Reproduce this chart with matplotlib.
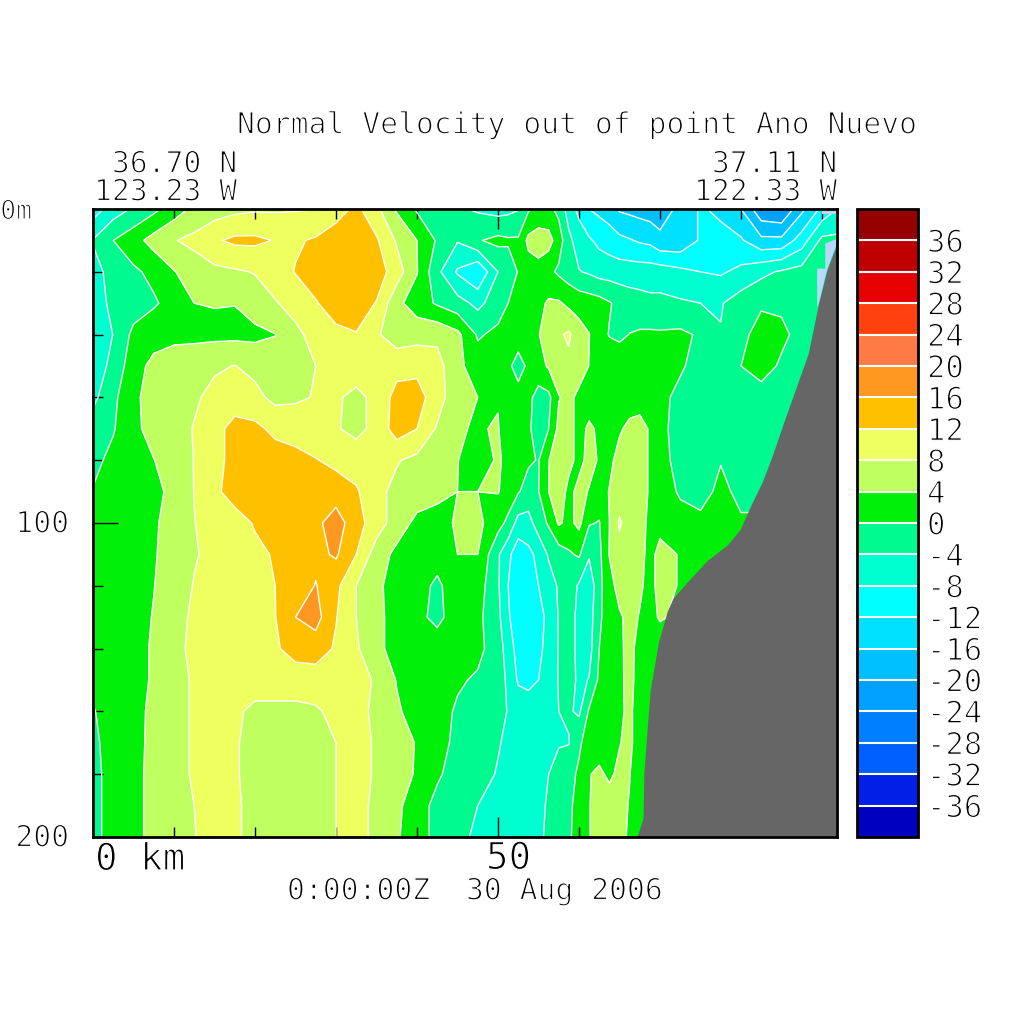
import numpy as np
import matplotlib
matplotlib.use('Agg')
import matplotlib.pyplot as plt
from matplotlib.colors import ListedColormap, BoundaryNorm
from matplotlib.patheffects import Stroke

# section coordinates
dist_km = [0, 2.5, 5, 7.5, 10, 12.5, 15, 17.5, 20, 22.5, 25, 27.5, 30, 32.5, 35, 37.5, 40, 42.5, 45, 47.5,
           50, 51.25, 52.5, 53.75, 55, 56.25, 57.5, 58.75, 60, 61.25, 62.5, 63.75, 65, 66.25, 67.5, 68.75, 70,
           72.5, 75, 77.5, 80, 82.5, 85, 87.5, 90, 91.85]
depth_m = [0, 10, 20, 30, 40, 50, 60, 70, 80, 90, 100, 110, 120, 130, 140, 150, 160, 170, 180, 190, 200]

# normal velocity, one row per depth
velocity = [
    [-10, -6, -3.5, -1, 2, 5, 6, 7, 7.5, 7.5, 7.7, 7.9, 10, 13, 9, 3.5, -0.5, -2, -3.5, -4.5,
     -5.5, -5, -4.2, -0.5, 1, 1, -1, -6, -9, -12, -13, -14, -16.5, -17, -17.5, -18, -18,
     -15, -11.5, -13, -16, -23, -24, -17, -11, -8],
    [-3.8, 0, 2.5, 5.5, 7.8, 9, 11.5, 12.8, 12.8, 11.8, 11.5, 12.5, 14.5, 16, 12.5, 7.5, 4, -0.5, -3.7, -0.3,
     1, 0.5, 0.5, 5, 6, 5.5, 2, -3, -6, -7.5, -9, -10, -11, -11.7, -12.5, -13, -15,
     -15, -11.5, -10.5, -11.5, -15, -15, -10, -3, -3],
    [-5, -3, -0.7, 1, 3.8, 6, 7, 7.5, 8.2, 10, 12.2, 14, 15, 15, 14, 10, 4.2, -3, -8.5, -11.8,
     -4, -2, 0.2, 2, 2.5, 1, -0.7, -2, -3.8, -4.5, -5.5, -5.7, -6, -6, -6, -6, -6,
     -7, -8, -8.5, -7, -5, -3.5, -2.5, -2, -2],
    [-6, -3, -2, -0.5, 1.5, 4, 4.2, 4.1, 6, 7.7, 9.5, 11.7, 14, 14, 11.8, 5, 2, -0.5, -2.5, -5,
     -2, 0, 1, 2, 3, 4.5, 4.5, 3, 2.5, 2, 1.5, 0.3, -1, -2, -2.5, -3, -3,
     -3.5, -4, -4.3, -2, -0.5, -0.8, -2, -3, -3],
    [-7.5, -3.9, 1, 2.5, 3, 3, 3, 3, 3, 3.9, 7, 9.5, 11, 11.8, 8.5, 6, 6.5, 7, 5, -0.5,
     1, 2, 2.5, 3, 3.9, 5, 7.5, 8.6, 5.5, 4.1, 1.5, -0.2, -0.8, 0.1, 0.5, 0.6, 0.5,
     0.8, -0.5, -3.8, -1, 1.5, 1, -1.5, -2, -2],
    [-6, -3, 2.5, 5, 6, 6.5, 7.5, 8.1, 7, 6, 7, 8, 9.5, 10, 10, 10.5, 11, 9.5, 5, 2,
     2, 1, -2, 1, 2.5, 4.5, 6, 7, 6, 3.9, 2, 2.5, 2.5, 2.5, 2.5, 2, 1.5,
     0.5, -1.5, -3.5, 0, 2, -0.7, -2, -2, -2],
    [-5, -1, 3.5, 5, 6, 7.5, 9, 10.5, 9, 7, 7.5, 8.2, 8.5, 7, 9, 13.5, 13.5, 10, 5, 4,
     3.9, 3, 2, 1, -1.5, -1, 3.8, 5, 3, 2.5, 2, 2, 2, 2, 1.5, 1.2, 1,
     -1, -2.5, -3, -3, -2, -2, -2, -2, -2],
    [-2, -0.3, 3, 5.5, 6.5, 8.2, 11, 13, 13, 11, 10, 9.5, 8.3, 7, 9, 14, 12, 7.5, 4.1, 3.9,
     4.1, 3, 2, 0.5, -1.5, 0, 5, 5, 3, 4.5, 3.5, 2.5, 3.5, 5, 6, 3.5, 1,
     -1.5, -2, -2.5, -2.5, -2, -0.5, -2, -2, -2],
    [-1, 1, 2.5, 3.9, 6, 8.1, 11, 13, 13.5, 14, 13.5, 12.2, 11, 10, 9, 8.3, 7, 5.5, 4.1, 2,
     4.5, 3, 2, 0.5, -0.2, 3.9, 6, 5, 3, 5, 3.7, 3, 5.5, 6.5, 6, 3.5, 1.5,
     -1.5, -2, -0.2, -1, -1, -1, -1, -1, -1],
    [0.2, 2, 2.5, 3, 5, 8.1, 11.5, 13, 13.5, 14, 14, 14.5, 14, 12.5, 9, 7, 6, 5, 4, 4,
     4.2, 2.5, 0.3, -1.5, -0.1, 4, 6, 3, 5, 3.8, 2, 4.2, 6, 7, 6, 3.5, 2,
     -0.5, -1.5, 1, -1, -1, -1, -1, -1, -1],
    [1.5, 2.5, 3, 3.5, 5.5, 7.9, 9.5, 11, 12.2, 14, 15, 15, 18, 13.5, 10, 6, 3, 2.5, 4.5, 5,
     1.5, -1, -5.5, -5.5, -2, 0.5, 4.5, 3, 5, 0.3, -0.2, 4, 8.5, 6, 4.8, 3.5, 3,
     1.5, 1, 1, 0.5, 0.5, 0.5, 0.5, 0.5, 0.5],
    [1.5, 2.5, 3, 3.7, 5.5, 7.7, 9, 10.5, 11.5, 12.2, 14, 15, 16.5, 12, 6, 3, 2, 2, 4, 4,
     -3.5, -7, -10.5, -9, -7, -3.5, -2, -0.5, 0.5, -3.5, -1, 4.2, 6.5, 6, 5, 3, 5,
     3.8, 1.5, 1, 1, 1, 1, 1, 1, 1],
    [1.5, 2.2, 2.5, 3.9, 6, 8.2, 9.5, 10.5, 11.5, 12, 13.5, 16.2, 13, 8, 5, 2, 2, -1, 3, 2,
     -3.5, -8, -10.5, -10.5, -8, -6, -3.5, -2, -4.5, -7, -1, 2.5, 5.5, 5.5, 4.5, 3, 5,
     3.8, 2, 2, 2, 2, 2, 2, 2, 2],
    [1.5, 2, 2.5, 4.2, 7, 8.5, 9.5, 10.5, 11.5, 11.9, 16, 17.5, 12.2, 8, 5, 2.5, 1, -1, 2, 1,
     -3, -7.5, -10.5, -11, -10, -6.5, -3.8, -2.5, -5, -6, -0.5, 1.5, 3.5, 5, 3.8, 2.5, 4.5,
     3, 2, 2, 2, 2, 2, 2, 2, 2],
    [1.5, 2, 2.5, 4.5, 7, 8.8, 9.5, 10.5, 11, 11.5, 13.5, 14, 11.5, 8.5, 5, 2.5, 2, 2, 1.5, 1,
     -2, -6, -9.5, -10.5, -9, -6.5, -3.8, -2.5, -5, -5.5, 0, 1.5, 3.5, 4.8, 3, 2, 1,
     1, 1, 1, 1, 1, 1, 1, 1, 1],
    [1.5, 2, 2.5, 4.5, 6.5, 8.5, 9, 9.5, 10, 10, 10, 10, 10, 9.5, 7.5, 3.8, 2.5, 2, 0.5, -0.5,
     -1.5, -5, -8.5, -9, -8, -6, -3.8, -2, -5, -3.8, 0.8, 2, 3.5, 4.7, 3, 1.5, 1,
     1, 1, 1, 1, 1, 1, 1, 1, 1],
    [-0.3, 2, 3, 4.7, 6.5, 8.5, 9, 8.8, 7, 7, 7, 7.5, 9, 9.5, 7, 4.5, 2.5, 1.5, -0.5, -2.5,
     -0.8, -4.5, -5.5, -6, -6, -5.5, -4, -3.5, -4.7, 0.5, 1.5, 2.5, 3.5, 4.6, 2.5, 1, 1,
     1, 1, 1, 1, 1, 1, 1, 1, 1],
    [-1, 2, 3, 4.8, 6.5, 8.5, 9, 8.3, 7, 7, 7, 7, 8, 9.5, 7.5, 6, 3.7, 1.5, -1, -3,
     -3.8, -4.5, -5, -5.5, -5.5, -4.5, -4.3, -4.2, -0.5, 1.5, 3, 3.5, 3.9, 4.6, 2.5, 1, 1,
     1, 1, 1, 1, 1, 1, 1, 1, 1],
    [-1.5, 2, 3, 5, 6.5, 8.5, 9, 8.3, 7, 7, 7, 7, 8, 9.5, 7.5, 6, 3.5, 0.5, -1.5, -3,
     -4.2, -5, -5.5, -5.5, -5, -4, -2.5, -1, 0.5, 3.9, 4.4, 3.6, 4.5, 4.1, 2, 1, 1,
     1, 1, 1, 1, 1, 1, 1, 1, 1],
    [-1.5, 2, 3, 5, 6.5, 8, 9, 8.5, 7, 7, 7, 7, 8, 9.5, 7, 5, 1.5, -1, -3, -4,
     -6, -6, -6, -5.5, -5, -3.5, -2.5, -0.8, 1.5, 3.9, 5, 5, 5, 3.8, 1.5, 1, 1,
     1, 1, 1, 1, 1, 1, 1, 1, 1],
    [-1.5, 2, 3, 5, 6.5, 7.9, 9, 8.5, 7, 7, 7, 7, 8, 9.5, 7, 4.5, 1.5, -1, -3, -4.7,
     -6, -6, -6, -5.5, -4.5, -3.5, -2.5, -0.5, 1.5, 3.9, 5, 5, 5, 3.5, 1, 1, 1,
     1, 1, 1, 1, 1, 1, 1, 1, 1],
]

# colour classes
levels = [-40, -36, -32, -28, -24, -20, -16, -12, -8, -4, 0, 4, 8, 12, 16, 20, 24, 28, 32, 36, 40]
colors = ['#0000c0', '#0020e8', '#0060ff', '#0080ff', '#00a0ff', '#00c0ff', '#00e0ff', '#00ffff',
          '#00ffd0', '#00fa90', '#00f00a', '#c0ff60', '#eeff60', '#ffc000', '#ff9820', '#ff7a45',
          '#ff410d', '#e60000', '#c00000', '#960000']
bar_ticks = [-36, -32, -28, -24, -20, -16, -12, -8, -4, 0, 4, 8, 12, 16, 20, 24, 28, 32, 36]
bar_labels = ['-36', '-32', '-28', '-24', '-20', '-16', '-12', '-8', '-4', '0',
              '4', '8', '12', '16', '20', '24', '28', '32', '36']

# land outline
land_km = [67.16, 67.9, 68.0, 68.4, 68.8, 69.8, 70.9, 71.6, 73.3, 75.8, 78.3, 79.9, 81.1, 82.6, 83.8, 85.4, 88.3, 89.5, 90.6, 91.85]
land_m = [200, 194, 180, 166, 153, 138, 128, 124, 119, 112, 107, 102, 95, 87, 79, 67, 46, 31, 19.5, 11]

# pale cells on the shelf edge
pale_km = [89.4, 90.4, 90.4, 91.85, 91.85, 90.6, 89.5, 89.4]
pale_m = [19, 19, 11, 9.5, 11, 19.5, 31, 31]
pale_top_km = [90.0, 91.85, 91.85, 90.0]
pale_top_m = [0, 0, 1.6, 1.6]

THIN = [Stroke(linewidth=0.9, foreground='white')]


def label(x, y, s, size=21.4, ha='left'):
    # x, y in pixels from the top left corner
    fig.text(x/1024, 1-y/1024, s, family='DejaVu Sans Mono', fontsize=size,
             ha=ha, va='center', path_effects=THIN)


fig = plt.figure(figsize=(10.24, 10.24), dpi=100)
ax = fig.add_axes([93/1024, 1-837/1024, 744/1024, 628/1024])

cmap = ListedColormap(colors)
norm = BoundaryNorm(levels, cmap.N)
cf = ax.contourf(dist_km, depth_m, velocity, levels=levels, cmap=cmap, norm=norm, antialiased=False)
ax.contour(dist_km, depth_m, velocity, levels=levels, colors='white', linewidths=1, linestyles='solid')
ax.fill(pale_km, pale_m, color='#b8d8ff', lw=0, zorder=3)
ax.fill(pale_top_km, pale_top_m, color='#b8d8ff', lw=0, zorder=3)
ax.fill_between(land_km, land_m, 200, color='#666666', lw=0, zorder=4)

ax.axis([0, 91.85, 200, 0])
ax.set_xticks([50])
ax.set_xticks([10, 20, 30, 40, 60, 70, 80, 90], minor=True)
ax.set_yticks([100])
ax.set_yticks([20, 40, 60, 80, 120, 140, 160, 180], minor=True)
ax.tick_params(which='both', direction='in', top=True, right=True, labelbottom=False, labelleft=False, width=1, zorder=5)
ax.tick_params(axis='x', which='major', length=14.4)
ax.tick_params(axis='y', which='major', length=18)
ax.tick_params(which='minor', length=7.2)
for s in ax.spines.values():
    s.set_linewidth(2)
    s.set_zorder(6)

cax = fig.add_axes([857/1024, 1-837/1024, 61/1024, 628/1024])
cb = fig.colorbar(cf, cax=cax, drawedges=True, spacing='proportional')
cb.set_ticks(bar_ticks, labels=bar_labels)
cb.ax.tick_params(length=0, pad=6.5, labelsize=22)
cb.ax.minorticks_off()
for t in cb.ax.get_yticklabels():
    t.set_family('DejaVu Sans Mono')
    t.set_path_effects(THIN)
cb.dividers.set_color('white')
cb.dividers.set_linewidth(1.5)
cb.outline.set_linewidth(2)

label(237, 125, 'Normal Velocity out of point Ano Nuevo')
label(237, 164, '36.70 N', ha='right')
label(237, 192, '123.23 W', ha='right')
label(837, 164, '37.11 N', ha='right')
label(837, 192, '122.33 W', ha='right')
label(32, 212, '0m', size=19, ha='right')
label(69, 524, '100', ha='right')
label(69, 838, '200', ha='right')
label(95, 860, '0 km', size=27)
label(486, 859, '50', size=27)
label(287, 891, '0:00:00Z  30 Aug 2006')

plt.savefig('out.png', dpi=100)
